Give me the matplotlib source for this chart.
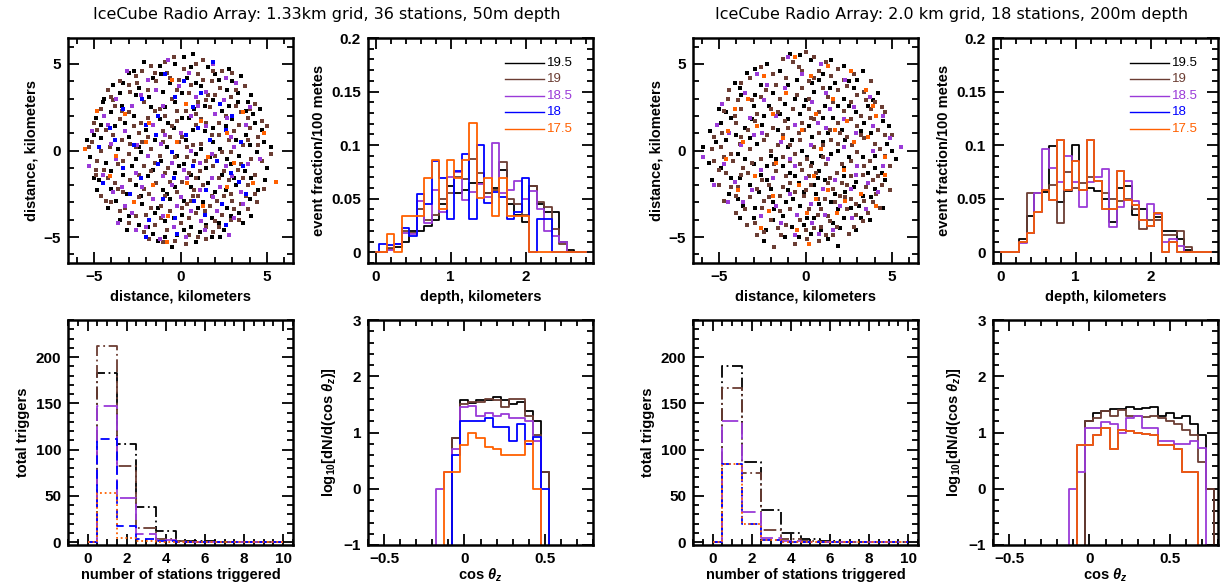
import numpy as np
import matplotlib
matplotlib.use("Agg")
import matplotlib.pyplot as plt
from matplotlib.ticker import MultipleLocator, FuncFormatter

plt.rcParams["font.family"] = ["Liberation Sans", "DejaVu Sans"]
plt.rcParams["font.weight"] = "bold"
plt.rcParams["mathtext.fontset"] = "custom"
plt.rcParams["mathtext.rm"] = "Liberation Sans:bold"
plt.rcParams["mathtext.it"] = "Liberation Sans:bold:italic"
plt.rcParams["mathtext.bf"] = "Liberation Sans:bold"

# energies (log10 E) and their colours
energies = ["19.5", "19", "18.5", "18", "17.5"]
colors = ["#000000", "#6b3d33", "#9a3ad8", "#0000ff", "#ff6000"]

titles = ["IceCube Radio Array: 1.33km grid, 36 stations, 50m depth",
          "IceCube Radio Array: 2.0 km grid, 18 stations, 200m depth"]

# ---- event vertex positions (km) ----
a_black = [(0.7, 5.6), (-2.1, 5.1), (-0.3, 5.0), (1.6, 4.8), (2.8, 4.7), (-3.0, 4.5), (-1.1, 4.4), (0.4, 4.2),
           (2.2, 4.1), (3.5, 4.3), (-3.9, 3.8), (-2.4, 3.6), (-0.6, 3.9), (1.2, 3.7), (2.7, 3.5), (4.1, 3.2),
           (-4.4, 3.0), (-1.8, 3.1), (0.1, 3.3), (1.9, 2.9), (3.3, 2.8), (-3.4, 2.6), (-0.9, 2.5), (0.8, 2.4),
           (2.4, 2.3), (4.6, 2.4), (-4.9, 1.9), (-2.7, 2.0), (-1.2, 1.8), (0.5, 1.9), (3.0, 1.8), (4.3, 1.6),
           (-3.8, 1.4), (-2.0, 1.2), (-0.4, 1.3), (1.4, 1.1), (2.6, 1.4), (3.8, 0.9), (-4.6, 0.7), (-3.0, 0.8),
           (-1.5, 0.6), (0.3, 0.6), (1.9, 0.5), (4.8, 0.5), (-5.2, -0.4), (-3.6, 0.1), (-2.3, -0.1), (-0.8, 0.2),
           (0.9, -0.2), (2.3, 0.1), (3.4, -0.3), (4.4, -0.1), (-4.3, -0.7), (-2.8, -0.9), (-1.1, -0.6), (0.2, -0.8),
           (1.5, -1.0), (2.9, -0.8), (5.0, -1.0), (-4.7, -1.7), (-3.3, -1.4), (-1.9, -1.5), (-0.3, -1.3), (1.0, -1.6),
           (2.4, -1.4), (3.7, -1.2), (-4.0, -2.2), (-2.6, -2.0), (-1.0, -2.3), (0.6, -2.1), (2.0, -2.4), (3.2, -2.0),
           (4.5, -2.3), (-3.7, -2.9), (-2.2, -3.1), (-0.6, -2.8), (1.3, -3.0), (2.7, -3.3), (4.0, -2.8), (-4.2, -3.3),
           (-3.0, -3.8), (-1.5, -3.6), (0.1, -3.7), (1.8, -3.9), (3.4, -3.6), (-2.4, -4.3), (-0.9, -4.1), (0.6, -4.4),
           (2.2, -4.2), (3.6, -4.2), (-1.6, -4.8), (-0.2, -4.9), (1.1, -4.7), (2.5, -4.6), (-1.3, -5.2), (-0.5, -5.6),
           (0.9, -5.3), (-1.2, 4.9), (3.0, 4.0), (-4.0, 2.2), (1.7, -0.4), (-0.2, -0.3), (0.7, 1.2), (-2.6, -0.5),
           (2.1, -2.9), (-3.5, 3.3), (4.7, 1.2),
           (0.2, 5.4), (-1.6, 4.2), (2.0, 4.4), (-3.3, 3.9), (0.9, 3.9), (3.9, 2.8), (-2.6, 3.2), (-0.3, 2.8),
           (1.4, 2.6), (-4.6, 1.5), (-1.7, 2.5), (2.8, 2.6), (-0.7, 1.6), (1.9, 1.3), (4.2, 2.1), (-3.2, 1.6),
           (0.1, 1.9), (3.2, 0.6), (-5.0, 0.9), (-2.4, 0.2), (-0.1, -0.9), (1.2, 0.1), (2.7, -0.5), (4.0, 0.3),
           (-4.0, -1.2), (-1.6, -1.1), (0.6, -1.4), (3.1, -1.6), (-5.0, -1.6), (-2.3, -2.6), (-0.3, -2.1), (1.6, -1.9),
           (4.1, -1.6), (-3.1, -2.5), (0.2, -2.9), (2.6, -2.3), (-1.3, -3.3), (1.0, -3.3), (2.9, -3.8), (-3.5, -4.0),
           (-0.4, -3.9), (1.5, -4.3), (-1.9, -4.4), (0.2, -4.6), (1.8, -5.0), (-0.9, -5.0), (4.1, -3.8), (-4.5, 2.8),
           (3.8, 2.3), (-1.0, 3.4), (0.6, 4.8), (-2.7, 4.6), (5.2, 0.2), (-5.4, 0.6), (4.9, -1.7), (-4.8, -2.3),
           (2.3, -5.0), (-3.1, -4.6), (3.3, 3.3), (-0.8, -2.5)]
a_brown = [(-0.4, 5.4), (1.3, 5.2), (-1.7, 4.9), (0.2, 4.7), (2.4, 4.6), (-2.6, 4.3), (-0.8, 4.5), (1.0, 4.4),
           (3.0, 4.5), (-3.5, 4.0), (-1.4, 4.0), (0.6, 3.8), (1.8, 4.0), (3.7, 3.7), (-4.2, 3.5), (-2.9, 3.4),
           (-0.2, 3.5), (2.3, 3.6), (-3.9, 2.9), (-2.1, 2.8), (-0.5, 3.0), (1.0, 2.8), (2.9, 3.1), (4.3, 2.7),
           (-4.6, 2.4), (-3.0, 2.2), (-1.5, 2.3), (0.3, 2.3), (1.7, 2.5), (3.5, 2.2), (-5.0, 1.6), (-3.5, 1.8),
           (-1.9, 1.9), (-0.2, 1.7), (1.2, 1.8), (2.2, 1.6), (3.9, 1.9), (5.0, 1.4), (-4.3, 1.2), (-2.7, 1.4),
           (-1.0, 1.1), (0.9, 1.5), (1.8, 0.9), (3.1, 1.1), (4.5, 0.8), (-5.1, 0.5), (-3.4, 0.6), (-2.2, 0.5),
           (-0.6, 0.8), (0.4, 0.2), (1.2, 0.4), (2.8, 0.6), (3.6, 0.3), (-4.6, 0.0), (-3.0, -0.2), (-1.7, 0.1),
           (-0.3, -0.4), (0.8, -0.6), (2.0, -0.3), (2.9, -0.1), (4.1, -0.5), (5.2, -0.2), (-4.9, -1.1), (-3.6, -0.8),
           (-2.1, -0.9), (-0.7, -1.0), (0.5, -1.3), (1.9, -0.9), (3.3, -1.1), (4.3, -1.4), (-4.2, -1.6), (-2.9, -1.7),
           (-1.4, -1.9), (0.1, -1.8), (1.3, -2.0), (2.8, -1.7), (3.9, -2.0), (-4.6, -2.6), (-3.3, -2.4), (-1.8, -2.5),
           (-0.2, -2.4), (1.0, -2.6), (2.5, -2.6), (3.8, -2.6), (4.8, -2.2), (-4.0, -3.0), (-2.7, -3.0), (-1.1, -3.2),
           (0.4, -3.1), (1.7, -3.2), (3.0, -2.9), (4.4, -3.0), (-3.5, -3.5), (-2.0, -3.7), (-0.6, -3.5), (0.9, -3.6),
           (2.4, -3.7), (3.9, -3.4), (-3.0, -4.2), (-1.5, -4.3), (0.0, -4.2), (1.5, -4.4), (2.9, -4.0), (-2.1, -4.7),
           (-0.8, -4.6), (0.5, -4.9), (1.9, -4.7), (-1.0, -5.3), (0.3, -5.4), (1.5, -5.1), (-0.1, 0.5), (0.9, -1.6),
           (-1.2, -0.3), (-2.4, 1.0), (1.5, 2.9), (-0.9, 2.0), (2.5, -1.2), (-1.7, -1.2), (0.6, -2.9), (3.2, 2.6),
           (-2.5, 3.9), (-3.8, -1.9), (4.0, 1.3), (-0.1, 4.1), (1.6, 3.2), (-4.8, -0.6),
           (-0.9, 5.1), (0.9, 5.0), (-2.2, 4.6), (1.9, 4.6), (-3.0, 3.8), (-0.6, 4.2), (1.3, 4.1), (3.2, 3.5),
           (-4.0, 3.1), (-1.9, 3.5), (0.5, 3.3), (2.0, 3.2), (4.0, 2.4), (-3.4, 2.3), (-1.2, 2.4), (0.9, 2.1),
           (2.6, 2.0), (-4.8, 1.2), (-2.3, 1.6), (-0.5, 1.4), (1.5, 1.6), (3.4, 1.5), (4.7, 1.7), (-3.9, 0.9),
           (-1.9, 0.8), (0.1, 0.8), (2.2, 0.9), (3.9, 0.6), (-5.3, 0.2), (-4.1, 0.2), (-2.6, 0.2), (-1.0, 0.5),
           (0.7, 0.3), (2.4, -0.1), (4.7, -0.6), (-3.3, -0.6), (-1.5, -0.7), (0.4, -0.4), (1.5, -0.6), (3.5, -0.8),
           (-4.4, -1.1), (-2.4, -1.4), (-0.9, -1.3), (1.1, -1.2), (2.2, -1.6), (3.6, -1.6), (-3.6, -2.2), (-2.1, -2.2),
           (-0.6, -1.8), (0.8, -2.3), (2.3, -2.1), (4.3, -2.5), (-4.3, -2.9), (-2.4, -2.7), (-0.9, -2.6), (0.7, -2.6),
           (2.1, -2.9), (3.5, -3.1), (-3.2, -3.3), (-1.7, -3.3), (0.1, -3.3), (1.4, -3.5), (3.1, -3.4), (-2.6, -3.8),
           (-1.1, -3.9), (0.5, -3.9), (2.0, -4.1), (3.4, -4.0), (-1.8, -5.1), (-0.3, -5.2), (1.0, -5.0), (2.2, -4.4),
           (-3.8, 2.6), (-1.5, 4.5), (2.9, -2.5), (4.5, 0.3), (-4.9, -1.4), (-0.2, 2.3), (1.8, -2.6), (-2.9, 0.4)]
a_purple = [(-0.7, 5.2), (1.9, 5.0), (-3.1, 4.6), (0.5, 4.5), (2.6, 4.2), (-1.9, 4.1), (-0.1, 3.7), (1.5, 3.4),
            (3.2, 3.9), (-3.7, 3.0), (-2.3, 3.2), (0.9, 3.1), (2.5, 2.9), (4.0, 2.5), (-4.4, 2.0), (-2.8, 2.6),
            (-1.0, 2.6), (0.6, 2.0), (2.0, 2.1), (3.8, 1.5), (-5.1, 1.1), (-3.2, 1.1), (-1.6, 1.5), (0.0, 1.0),
            (1.5, 1.4), (2.9, 0.8), (4.8, 1.0), (-4.0, 0.4), (-2.5, 0.3), (-1.1, 0.4), (0.6, 0.0), (1.8, -0.2),
            (3.1, 0.2), (4.6, -0.5), (-5.3, -0.9), (-3.7, -0.5), (-1.9, -0.3), (-0.5, -0.7), (1.1, -0.7), (2.6, -0.9),
            (3.9, -0.8), (-4.5, -1.4), (-2.6, -1.3), (-1.0, -1.5), (0.4, -1.6), (1.8, -1.6), (3.0, -1.5), (-3.9, -2.4),
            (-2.2, -2.1), (-0.5, -2.0), (1.1, -2.3), (2.3, -2.1), (4.2, -1.9), (-3.2, -3.2), (-1.6, -2.8), (0.0, -2.7),
            (1.9, -2.7), (3.5, -2.4), (-2.8, -3.6), (-1.0, -3.8), (0.6, -3.5), (2.1, -3.5), (3.1, -3.9), (-3.6, -4.2),
            (-2.0, -4.4), (-0.4, -4.4), (1.2, -4.1), (2.6, -4.3), (-1.2, -5.1), (0.3, -5.0), (1.4, -4.6), (-0.9, 0.9),
            (0.2, -1.1), (-1.4, 3.5), (2.7, 1.9), (-3.4, -2.1), (1.0, 2.6), (-0.2, -3.2), (3.6, -3.1), (-4.2, 1.5),
            (-2.6, -4.6), (2.8, -4.9)]
a_blue = [(1.9, 5.1), (-0.9, 4.4), (0.2, 4.0), (1.2, 3.3), (-2.2, 3.0), (-0.3, 3.1), (2.3, 2.7), (-3.3, 2.4),
          (-1.3, 2.0), (0.7, 2.5), (3.0, 2.0), (-4.1, 1.3), (-2.0, 1.5), (1.0, 1.3), (2.6, 1.2), (-3.8, 0.6),
          (-1.4, 0.9), (0.3, 0.9), (1.7, 0.6), (3.5, 0.5), (-4.7, 0.2), (-2.7, 0.3), (-0.5, -0.1), (2.1, -0.6),
          (3.6, -0.9), (-3.3, -1.0), (-1.3, -0.8), (0.7, -0.9), (2.9, -1.3), (-4.5, -1.9), (-2.3, -1.6), (-0.4, -1.6),
          (1.5, -2.3), (3.4, -1.8), (-2.9, -2.5), (-1.0, -2.8), (0.8, -2.9), (2.4, -3.1), (3.8, -2.5), (-1.8, -4.0),
          (-0.3, -3.9), (1.4, -3.7), (2.6, -4.3), (-0.2, -4.8), (-2.0, -5.0)]
a_orange = [(-5.5, 0.1), (-4.8, 2.3), (-3.2, 2.1), (-1.8, 1.6), (-0.5, 4.1), (0.3, 2.7), (1.2, 1.7), (2.7, 1.0),
            (3.6, 2.2), (4.8, 1.0), (-3.7, -0.3), (-2.0, 0.5), (-0.2, 0.5), (1.6, -0.4), (3.1, -0.7), (5.5, -1.8),
            (-4.1, -1.5), (-1.6, -2.0), (0.4, -1.9), (2.7, -2.1), (4.2, -1.9), (-2.7, -3.0), (-0.7, -3.8), (1.3, -3.2),
            (-0.8, -5.3)]

b_black = [(-0.9, 5.6), (0.3, 5.2), (-2.2, 5.0), (2.2, 4.9), (-3.4, 4.5), (-1.5, 4.6), (1.0, 4.4), (3.3, 4.6),
           (-4.1, 3.9), (-2.6, 3.8), (-0.5, 4.1), (1.7, 3.9), (2.8, 3.6), (4.2, 3.3), (-3.7, 3.2), (-1.9, 3.3),
           (0.5, 3.4), (2.2, 3.0), (-5.0, 2.4), (-3.0, 2.6), (-1.2, 2.7), (1.1, 2.6), (3.6, 2.6), (-4.3, 1.9),
           (-2.4, 2.0), (-0.3, 2.1), (1.6, 1.9), (2.9, 2.2), (4.5, 1.7), (-5.5, 1.1), (-3.5, 1.3), (-1.6, 1.2),
           (0.2, 1.4), (2.1, 1.2), (3.8, 1.0), (-4.6, 0.6), (-2.8, 0.4), (-0.8, 0.6), (1.0, 0.5), (2.7, 0.3),
           (4.7, 0.4), (-5.9, 0.2), (-3.9, -0.2), (-2.0, -0.3), (-0.2, 0.0), (1.5, -0.2), (3.3, -0.4), (5.2, -0.5),
           (-4.9, -1.0), (-3.0, -0.8), (-1.3, -0.9), (0.4, -0.7), (2.2, -1.0), (4.0, -1.0), (-5.4, -1.7), (-3.8, -1.6),
           (-2.2, -1.7), (-0.6, -1.5), (1.1, -1.7), (2.9, -1.8), (4.6, -1.7), (-4.4, -2.5), (-2.7, -2.4), (-1.0, -2.3),
           (0.6, -2.5), (2.3, -2.4), (3.8, -2.7), (-3.6, -3.2), (-1.9, -3.0), (-0.3, -3.2), (1.5, -3.0), (3.1, -3.2),
           (4.5, -3.3), (-3.0, -3.9), (-1.3, -3.8), (0.5, -3.9), (2.2, -3.9), (3.7, -4.0), (-2.3, -4.6), (-0.8, -4.4),
           (0.9, -4.6), (2.0, -4.5), (-1.2, -5.0), (0.3, -4.8), (1.9, -5.5), (-2.4, -5.2), (-0.1, 2.6), (0.8, -1.2),
           (-1.0, 0.2), (1.9, 0.0), (-2.2, -0.9), (0.1, -3.9), (-1.5, 2.1), (2.5, 4.0), (-3.2, -2.0), (3.4, 1.6),
           (0.4, 3.9), (-0.7, -2.8), (1.3, 1.0), (-2.5, 1.5), (-0.4, -1.9), (2.8, -2.1), (-4.0, 0.9), (1.9, 2.6),
           (-1.8, -3.4), (0.9, -0.3),
           (-0.3, 5.5), (1.5, 5.2), (-2.9, 4.7), (0.8, 4.1), (3.0, 4.1), (-3.8, 3.6), (-1.0, 3.8), (1.4, 3.6),
           (3.9, 2.9), (-4.6, 2.2), (-2.1, 2.6), (0.0, 2.9), (2.5, 2.6), (4.8, 1.4), (-3.1, 1.8), (-1.0, 1.8),
           (1.0, 1.9), (3.2, 1.1), (-5.2, 0.5), (-3.2, 0.7), (-1.4, 0.5), (0.4, 0.8), (2.3, 0.6), (4.0, -0.3),
           (-5.6, -0.7), (-3.5, -0.5), (-1.7, -0.5), (0.1, -0.4), (2.5, -0.4), (4.4, -1.3), (-4.3, -1.6), (-2.6, -1.4),
           (-0.9, -1.3), (0.7, -1.6), (2.2, -1.5), (3.6, -1.3), (-3.9, -2.8), (-2.0, -2.2), (-0.1, -2.4), (1.7, -2.5),
           (3.3, -2.6), (-2.9, -3.3), (-1.1, -3.0), (0.8, -3.1), (2.6, -3.3), (4.0, -2.2), (-1.9, -4.0), (-0.1, -4.3),
           (1.6, -4.2), (3.2, -3.9), (-0.4, -5.0), (1.3, -5.1), (-3.8, -3.9), (2.9, -4.6), (-4.9, 1.6), (5.0, 0.0),
           (-0.6, 3.0), (1.9, -3.4), (-2.9, 3.2), (0.5, -2.0)]
b_brown = [(0.0, 5.7), (-1.3, 5.3), (1.2, 5.1), (-2.6, 4.8), (-0.4, 4.8), (0.8, 4.6), (2.8, 4.4), (-3.2, 4.2),
           (-1.1, 4.2), (1.5, 4.3), (3.8, 4.0), (-4.4, 3.5), (-2.3, 3.5), (-0.2, 3.6), (1.9, 3.5), (3.4, 3.4),
           (-3.1, 2.9), (-1.5, 3.0), (0.2, 3.0), (1.3, 3.1), (2.6, 2.8), (4.0, 2.8), (-4.7, 2.3), (-3.7, 2.4),
           (-2.0, 2.4), (-0.7, 2.4), (0.8, 2.2), (2.2, 2.3), (3.2, 2.0), (4.6, 2.2), (-5.1, 1.5), (-4.0, 1.6),
           (-2.9, 1.7), (-1.2, 1.7), (0.5, 1.8), (1.9, 1.6), (3.0, 1.4), (4.2, 1.2), (-5.3, 0.8), (-3.7, 0.8),
           (-2.2, 0.9), (-0.4, 1.0), (0.8, 1.0), (2.4, 0.8), (3.4, 0.7), (5.0, 0.9), (-4.9, 0.2), (-3.2, 0.1),
           (-1.6, 0.3), (-0.6, -0.2), (0.5, 0.2), (1.9, 0.4), (3.0, -0.1), (4.3, 0.1), (-5.3, -0.6), (-4.2, -0.6),
           (-2.6, -0.5), (-0.9, -0.6), (0.1, -0.5), (1.2, -0.8), (2.6, -0.6), (3.7, -0.6), (4.9, -0.9), (-4.6, -1.3),
           (-3.3, -1.3), (-1.7, -1.2), (-0.2, -1.1), (0.6, -1.3), (1.8, -1.3), (3.3, -1.4), (4.2, -1.5), (-5.0, -2.0),
           (-3.9, -2.1), (-2.1, -2.0), (-0.9, -1.9), (0.3, -2.0), (1.6, -2.2), (2.6, -2.8), (3.5, -2.1), (4.9, -2.3),
           (-4.7, -2.9), (-3.2, -2.7), (-1.5, -2.6), (-0.1, -2.6), (1.1, -2.8), (2.0, -2.6), (3.9, -3.0), (-4.0, -3.6),
           (-2.5, -3.3), (-0.9, -3.4), (0.9, -3.4), (2.4, -3.4), (3.6, -3.6), (-3.4, -4.3), (-2.0, -4.0), (-0.3, -4.0),
           (1.4, -4.1), (2.8, -4.4), (-2.8, -4.9), (-1.6, -4.5), (0.0, -4.6), (1.2, -4.9), (2.5, -4.8), (-0.6, -5.4),
           (0.8, -5.2), (-1.8, -5.6), (-0.3, 0.6), (1.5, 0.6), (-1.3, -0.4), (0.3, -0.9), (-2.8, 2.1), (1.0, 3.6),
           (-1.7, 3.8), (2.9, -3.7), (-3.6, -1.0), (4.1, -2.5), (0.5, 4.2), (-0.2, 1.6), (-4.3, -0.2), (2.1, -1.9),
           (-1.0, 1.3), (0.2, 2.4), (1.7, -3.0), (-2.4, -2.9), (3.8, 2.4), (-3.9, 2.9), (0.9, -4.4), (2.2, 4.1),
           (4.6, -0.3), (-2.0, 0.0),
           (-0.7, 5.1), (0.5, 5.4), (1.9, 4.7), (-1.9, 4.4), (-3.7, 3.9), (0.2, 4.0), (2.4, 3.7), (3.0, 3.2),
           (-2.6, 3.1), (-0.5, 3.2), (1.6, 2.8), (4.4, 2.5), (-4.1, 2.0), (-1.6, 2.2), (0.3, 1.9), (2.6, 1.8),
           (3.7, 1.9), (-4.8, 1.0), (-3.3, 1.2), (-1.9, 1.3), (-0.1, 1.2), (1.4, 1.2), (3.2, 0.9), (4.6, 0.9),
           (-5.4, 0.1), (-3.8, 0.4), (-2.4, 0.6), (-0.9, 0.3), (1.0, 0.3), (2.7, 0.3), (4.0, 0.4), (-4.7, -0.4),
           (-3.1, -0.7), (-1.8, -0.8), (-0.3, -0.8), (1.0, -0.4), (2.1, -0.8), (3.4, -0.9), (-5.0, -1.1), (-3.7, -1.4),
           (-2.5, -1.7), (-1.1, -1.5), (0.2, -1.5), (1.4, -1.6), (2.6, -1.5), (3.9, -1.7), (-4.3, -2.1), (-2.8, -2.2),
           (-1.3, -2.1), (0.0, -2.3), (1.3, -1.9), (2.4, -2.0), (4.4, -2.0), (-4.0, -2.6), (-2.1, -2.7), (-0.6, -2.4),
           (0.7, -2.8), (2.3, -2.7), (3.4, -2.9), (-3.5, -3.4), (-1.5, -3.5), (0.2, -3.4), (1.3, -3.8), (2.9, -3.1),
           (4.3, -3.3), (-2.9, -4.2), (-1.1, -4.3), (0.5, -4.5), (1.8, -4.4), (3.3, -4.1), (-1.4, -4.9), (0.1, -5.1),
           (1.6, -4.9), (-2.4, -4.7), (-0.2, 4.6), (3.5, 2.9), (-4.5, 3.0), (2.0, 1.0), (-1.3, 0.9), (0.7, -3.7)]
b_purple = [(-1.0, 5.4), (0.9, 5.0), (-2.8, 4.4), (-0.2, 4.4), (2.3, 4.1), (-3.5, 3.3), (-1.2, 3.6), (1.2, 3.3),
            (3.7, 3.1), (-4.8, 2.7), (-2.4, 2.9), (0.4, 2.8), (2.8, 2.5), (4.5, 2.0), (-5.1, 1.5), (-3.2, 1.9),
            (-1.7, 2.0), (0.7, 1.6), (2.2, 1.8), (3.9, 1.4), (-4.4, 1.0), (-2.5, 1.0), (-0.6, 1.5), (1.2, 1.3),
            (2.9, 1.0), (4.9, 0.7), (-5.9, -0.4), (-3.7, 0.3), (-1.4, 0.5), (0.3, 0.3), (2.2, 0.2), (3.9, 0.0),
            (5.5, 0.2), (-4.7, -0.8), (-2.6, -1.1), (-0.6, -0.9), (1.3, -0.5), (3.0, -0.9), (4.5, -0.9), (-4.1, -1.8),
            (-1.9, -1.6), (0.0, -1.6), (1.7, -1.7), (3.6, -1.9), (-5.3, -2.0), (-3.1, -2.3), (-0.9, -2.5), (1.0, -2.2),
            (2.6, -2.2), (4.2, -2.4), (-3.6, -3.0), (-1.7, -3.2), (0.3, -3.1), (2.0, -3.2), (3.5, -3.4), (-2.6, -3.8),
            (-0.5, -3.7), (1.1, -3.7), (2.7, -3.9), (-1.4, -4.2), (0.4, -4.2), (1.6, -4.6), (-0.6, -4.9), (0.8, -4.8),
            (-4.5, -3.0), (-3.0, 0.9), (1.4, 2.4), (-0.9, -0.5), (2.9, -1.4), (-2.2, 3.8)]
b_orange = [(-0.6, 5.4), (1.3, 4.9), (-2.4, 4.3), (0.3, 4.3), (2.6, 4.6), (3.5, 3.5), (-3.3, 3.0), (-1.1, 3.3),
            (1.6, 3.0), (3.9, 2.6), (-4.1, 2.4), (-1.9, 2.1), (0.6, 2.1), (2.4, 1.7), (4.1, 2.0), (-4.5, 1.1),
            (-2.8, 1.4), (-0.2, 1.2), (1.7, 1.2), (3.6, 0.8), (-3.6, 0.5), (-1.3, 0.7), (0.9, 0.1), (2.8, 0.5),
            (4.6, -0.4), (-4.6, -0.5), (-1.7, -0.7), (0.5, -1.5), (2.2, -1.1), (4.6, -1.4), (-2.9, -1.5), (-0.4, -2.0),
            (1.3, -2.3), (3.2, -2.5), (-3.9, -2.3), (-1.9, -2.6), (0.6, -2.8), (2.3, -2.9), (4.1, -3.2), (-2.1, -3.5),
            (0.1, -3.6), (1.8, -3.6), (-2.6, -4.5), (-0.5, -4.6), (0.2, -5.4)]

# ---- depth distributions, event fraction per 100 m, bins centred every 0.1 km ----
depth_km = np.round(np.arange(0, 2.81, 0.1), 1)
depth_a = [
    [0, 0, 0.003, 0.005, 0.010, 0.020, 0.020, 0.025, 0.030, 0.045, 0.062, 0.055, 0.058, 0.065, 0.065,
     0.055, 0.060, 0.077, 0.045, 0.035, 0.028, 0.062, 0.045, 0.038, 0.038, 0.010, 0.002, 0, 0],
    [0, 0, 0.004, 0.008, 0.020, 0.018, 0.040, 0.030, 0.035, 0.050, 0.055, 0.070, 0.068, 0.087, 0.074,
     0.055, 0.058, 0.084, 0.050, 0.045, 0.035, 0.062, 0.047, 0.042, 0.022, 0.008, 0, 0, 0],
    [0, 0, 0.002, 0.008, 0.018, 0.017, 0.048, 0.027, 0.058, 0.038, 0.070, 0.075, 0.049, 0.056, 0.064,
     0.052, 0.102, 0.055, 0.058, 0.067, 0.050, 0.057, 0.040, 0.020, 0.015, 0.010, 0, 0, 0],
    [0, 0.008, 0.007, 0.008, 0.023, 0.015, 0.054, 0.045, 0.085, 0.069, 0.031, 0.076, 0.092, 0.031, 0.100,
     0.046, 0.056, 0.052, 0.031, 0.038, 0.069, 0, 0.031, 0.031, 0, 0, 0, 0, 0],
    [0, 0, 0.017, 0, 0.034, 0.034, 0.034, 0.069, 0.086, 0.040, 0.086, 0.069, 0.086, 0.121, 0.051,
     0.069, 0.034, 0.069, 0.034, 0.034, 0.034, 0, 0, 0, 0, 0, 0, 0, 0],
]
depth_b = [
    [0, 0, 0, 0.012, 0.034, 0.055, 0.056, 0.099, 0.047, 0.057, 0.100, 0.058, 0.060, 0.057, 0.050,
     0.028, 0.060, 0.062, 0.035, 0.040, 0.025, 0.033, 0.020, 0.020, 0.012, 0.002, 0, 0, 0],
    [0, 0, 0, 0.010, 0.055, 0.055, 0.058, 0.063, 0.027, 0.075, 0.060, 0.065, 0.070, 0.067, 0.055,
     0.050, 0.048, 0.050, 0.040, 0.022, 0.030, 0.030, 0.016, 0.016, 0.020, 0.005, 0, 0, 0],
    [0, 0, 0, 0.009, 0.018, 0.055, 0.096, 0.079, 0.066, 0.090, 0.066, 0.042, 0.066, 0.070, 0.078,
     0.024, 0.042, 0.067, 0.048, 0.030, 0.045, 0.036, 0.010, 0.012, 0.006, 0, 0, 0, 0],
    [0, 0, 0, 0.010, 0.018, 0.038, 0.058, 0.049, 0.105, 0.058, 0.085, 0.058, 0.105, 0.067, 0.040,
     0.040, 0.076, 0.049, 0.044, 0.030, 0.025, 0.037, 0, 0.010, 0, 0, 0, 0, 0],
    [0, 0, 0, 0.010, 0.018, 0.038, 0.058, 0.049, 0.105, 0.058, 0.085, 0.058, 0.105, 0.067, 0.040,
     0.040, 0.076, 0.049, 0.044, 0.030, 0.025, 0.037, 0, 0.010, 0, 0, 0, 0, 0],
]

# ---- station multiplicity ----
n_stations = np.arange(0, 11)
trig_a = [
    [0, 183, 106, 38, 12, 1, 1, 0, 0, 0, 0],
    [0, 212, 82, 15, 4, 1, 0, 0, 0, 0, 0],
    [0, 147, 48, 9, 2, 0, 0, 0, 0, 0, 0],
    [0, 112, 17, 4, 1, 0, 0, 0, 0, 0, 0],
    [0, 53, 5, 1, 0, 0, 0, 0, 0, 0, 0],
]
trig_b = [
    [0, 190, 87, 35, 10, 4, 1, 0, 0, 0, 0],
    [0, 167, 75, 13, 4, 1, 0, 0, 0, 0, 0],
    [0, 131, 33, 5, 1, 0, 0, 0, 0, 0, 0],
    [0, 85, 20, 2, 0, 0, 0, 0, 0, 0, 0],
    [0, 85, 20, 2, 0, 0, 0, 0, 0, 0, 0],
]
trig_styles = [(0, (7, 2, 1, 2)), (0, (7, 2, 1, 2)), (0, (9, 3)), (0, (5, 3)), (0, (1, 1.6))]

# ---- zenith angle, log10 dN/dcos, bins centred every 0.05 (nan = empty bin) ----
nan = np.nan
cos_z = np.round(np.arange(-5, 17) * 0.05, 2)
zen_a = [
    [nan, nan, nan, nan, 0.9, 1.57, 1.52, 1.57, 1.58, 1.64, 1.58, 1.5, 1.55, 1.38, 1.2, 0.3,
     nan, nan, nan, nan, nan, nan],
    [nan, nan, nan, nan, 0.9, 1.5, 1.55, 1.55, 1.6, 1.57, 1.45, 1.6, 1.6, 1.3, 0.95, 0.3,
     nan, nan, nan, nan, nan, nan],
    [nan, nan, 0.0, 0.3, 0.7, 1.45, 1.48, 1.3, 1.35, 1.3, 1.33, 1.25, 1.25, 1.2, 0.85, nan,
     nan, nan, nan, nan, nan, nan],
    [nan, nan, nan, nan, 0.6, 1.2, 1.2, 1.2, 1.26, 1.1, 1.1, 0.85, 1.15, 0.8, 0.92, 0.0,
     nan, nan, nan, nan, nan, nan],
    [nan, nan, nan, 0.3, 0.3, 0.78, 1.0, 0.9, 0.75, 0.7, 0.6, 0.6, 0.6, 0.85, 0.0, nan,
     nan, nan, nan, nan, nan, nan],
]
zen_b = [
    [nan, nan, nan, nan, nan, 1.2, 1.35, 1.38, 1.42, 1.42, 1.45, 1.42, 1.43, 1.45, 1.3, 1.35,
     1.25, 1.3, 1.15, 0.95, 0.0, nan],
    [nan, nan, nan, nan, nan, 1.2, 1.25, 1.38, 1.3, 1.4, 1.3, 1.3, 1.28, 1.3, 1.25, 1.2,
     1.15, 1.05, 0.95, 0.48, 0.0, nan],
    [nan, nan, nan, 0.0, 0.3, 1.08, 1.08, 1.18, 1.15, 1.0, 1.25, 1.3, 1.08, 1.08, 0.85, 0.85,
     0.8, 0.8, 0.85, 0.72, nan, nan],
    [nan, nan, nan, nan, 0.78, 0.78, 0.95, 1.08, 0.7, 1.05, 1.02, 1.0, 0.98, 0.95, 0.78, 0.78,
     0.7, 0.3, 0.3, nan, nan, nan],
    [nan, nan, nan, nan, 0.78, 0.78, 0.95, 1.08, 0.7, 1.05, 1.02, 1.0, 0.98, 0.95, 0.78, 0.78,
     0.7, 0.3, 0.3, nan, nan, nan],
]


def tick_fmt(v, pos):
    return f"{round(v, 6) + 0.0:g}".replace("-", "\u2212")


def frame(ax, xlim, ylim, xmaj, xmin, ymaj, ymin):
    ax.set_xlim(*xlim)
    ax.set_ylim(*ylim)
    ax.xaxis.set_major_locator(MultipleLocator(xmaj))
    ax.xaxis.set_minor_locator(MultipleLocator(xmin))
    ax.yaxis.set_major_locator(MultipleLocator(ymaj))
    ax.yaxis.set_minor_locator(MultipleLocator(ymin))
    ax.xaxis.set_major_formatter(FuncFormatter(tick_fmt))
    ax.yaxis.set_major_formatter(FuncFormatter(tick_fmt))
    ax.tick_params(which="both", direction="in", top=True, right=True, width=1.3,
                   labelsize=11, pad=5)
    ax.tick_params(which="major", length=8)
    ax.tick_params(which="minor", length=4)
    for s in ax.spines.values():
        s.set_linewidth(1.8)


def labels(ax, xl, yl, xpad=4):
    ax.set_xlabel(xl, fontsize=10.5, fontweight="bold", labelpad=xpad)
    ax.set_ylabel(yl, fontsize=10.5, fontweight="bold")


def energy_key(ax):
    for i, (lab, c) in enumerate(zip(energies, colors)):
        y = 0.889 - i * 0.073
        ax.plot([0.61, 0.78], [y, y], color=c, lw=1.0, transform=ax.transAxes)
        ax.text(0.795, y, lab, color=c, fontsize=9.5, fontweight="normal",
                va="center", ha="left", transform=ax.transAxes)


fig = plt.figure(figsize=(12.2, 5.86), dpi=100)
W, H = 1220.0, 586.0


def box(x0, y0):
    return [x0 / W, 1 - (y0 + 225) / H, 225 / W, 225 / H]


panels = [
    (0, titles[0], [a_black, a_brown, a_purple, a_blue, a_orange], depth_a, trig_a, zen_a),
    (625, titles[1], [b_black, b_brown, b_purple, [], b_orange], depth_b, trig_b, zen_b),
]

for dx, title, points, depth, trig, zen in panels:
    fig.text((327 + dx) / W, 1 - 14 / H, title, ha="center", va="center",
             fontsize=11.5, fontweight="normal", family="DejaVu Sans")

    # vertex map
    ax = fig.add_axes(box(68 + dx, 38))
    for pts, c in zip(points, colors):
        if len(pts) == 0:
            continue
        xy = np.array(pts)
        ax.plot(xy[:, 0], xy[:, 1], "s", color=c, ms=2.5, mew=0)
    frame(ax, (-6.5, 6.5), (-6.5, 6.5), 5, 1, 5, 1)
    labels(ax, "distance, kilometers", "distance, kilometers")

    # depth
    ax = fig.add_axes(box(368 + dx, 38))
    for vals, c in zip(depth, colors):
        ax.step(depth_km, vals, where="mid", color=c, lw=1.3)
    frame(ax, (-0.1, 2.9), (-0.01, 0.2), 1, 0.2, 0.05, 0.01)
    labels(ax, "depth, kilometers", "event fraction/100 metes")
    energy_key(ax)

    # station multiplicity
    ax = fig.add_axes(box(68 + dx, 320))
    for vals, c, ls in zip(trig, colors, trig_styles):
        ax.step(n_stations, vals, where="mid", color=c, lw=1.3, linestyle=ls)
    frame(ax, (-1, 10.5), (-3, 240), 2, 0.5, 50, 10)
    labels(ax, "number of stations triggered", "total triggers", xpad=1.5)

    # zenith angle
    ax = fig.add_axes(box(368 + dx, 320))
    for vals, c in zip(zen, colors):
        v = np.nan_to_num(np.array(vals, dtype=float), nan=-10.0)
        ax.step(cos_z, v, where="mid", color=c, lw=1.3)
    frame(ax, (-0.6, 0.8), (-1, 3), 0.5, 0.1, 1, 0.2)
    labels(ax, r"cos $\theta_z$", r"log$_{10}$[dN/d(cos $\theta_z$)]", xpad=0.5)

fig.savefig("out.png", dpi=100)
